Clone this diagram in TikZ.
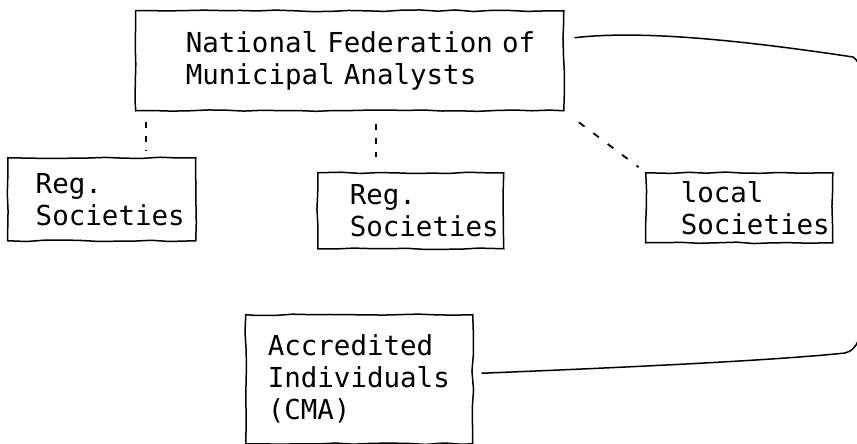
\documentclass[tikz,border=0pt]{standalone}
\usepackage{fontspec}
\setmonofont{DejaVu Sans Mono}
\usetikzlibrary{decorations.pathmorphing}

\newcommand{\lpad}[2]{\leftskip=#1\relax #2\par}

\begin{document}
\begin{tikzpicture}[x=1pt,y=-1pt,
    box/.style={draw, line width=1.5pt, anchor=north west, align=left,
        inner xsep=0pt, inner ysep=0pt,
        font=\ttfamily\fontsize{27.5}{32}\selectfont,
        decorate, decoration={random steps, segment length=18pt, amplitude=0.8pt}},
    dotlink/.style={line width=2pt, dash pattern=on 6pt off 8pt},
    dashlink/.style={line width=1.8pt, dash pattern=on 7pt off 11pt},
    wire/.style={line width=1.5pt}]
    \pgfmathsetseed{7}
    \useasboundingbox (0,0) rectangle (857,444);
    % Draw the boxes
    \node[box, text width=428pt, minimum height=100pt] (nf) at (135,10)
        {\lpad{50pt}{National Federation of\\Municipal Analysts}};
    \node[box, text width=188pt, minimum height=83pt] (reg1) at (7,157)
        {\lpad{28pt}{Reg.\\Societies}};
    \node[box, text width=186pt, minimum height=76pt] (reg2) at (317,172)
        {\lpad{32pt}{Reg.\\Societies}};
    \node[box, text width=187pt, minimum height=70pt] (local) at (645,172)
        {\lpad{35pt}{local\\Societies}};
    \node[box, text width=227pt, minimum height=129pt] (acc) at (245,314)
        {\lpad{22pt}{Accredited\\Individuals\\(CMA)}};
    % Draw the loose links
    \draw[dotlink, shorten <=10pt, shorten >=7pt]
        ([xshift=44pt]reg1.north |- nf.south) -- ([xshift=44pt]reg1.north);
    \draw[dotlink, shorten <=12pt, shorten >=15pt]
        ([xshift=-35pt]reg2.north |- nf.south) -- ([xshift=-35pt]reg2.north);
    \draw[dashlink, shorten <=18pt, shorten >=8pt] (nf.south east) -- (local.north west);
    % Draw the link round the right side
    \begin{scope}
        \clip (0,0) rectangle (857,444);
        \draw[wire] ([shift={(10pt,23pt)}]nf.east) .. controls (640,30) and (740,40) .. (853,57)
            .. controls (861,62) and (862,75) .. (862,90) -- (862,315)
            .. controls (862,335) and (858,350) .. (845,353)
            .. controls (760,362) and (560,370) .. ([shift={(8pt,6pt)}]acc.east);
    \end{scope}
\end{tikzpicture}
\end{document}
